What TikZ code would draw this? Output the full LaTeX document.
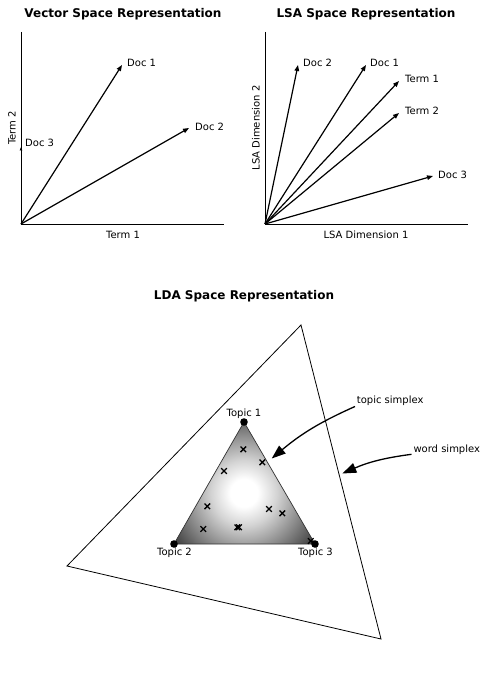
\documentclass[tikz,border=0pt]{standalone}
\usepackage{fontspec}
\setmainfont{DejaVu Sans}
\usetikzlibrary{arrows.meta}
\pgfdeclareradialshading{ldashade}{\pgfpoint{0bp}{0bp}}{color(0bp)=(white); color(4bp)=(white); color(9.5bp)=(black!17); color(25bp)=(black!77); color(50bp)=(black!77)}
\begin{document}
\begin{tikzpicture}[x=1pt,y=-1pt,
  lbl/.style={font=\fontsize{10}{12}\selectfont, inner sep=0pt},
  ttl/.style={font=\fontsize{12}{14}\selectfont\bfseries, inner sep=0pt},
  axisline/.style={line width=1pt},
  vec/.style={line width=1.2pt, -{Triangle[length=6pt,width=4.5pt]}},
  bigarrow/.style={line width=1.3pt, -{Triangle[length=14pt,width=10pt]}},
  xmarkline/.style={line width=1.3pt}
]
\useasboundingbox (0,0) rectangle (487,695);

% ---------- Vector space ----------
\node[ttl] (t1) at (123,14) {Vector Space Representation};
\coordinate (O1) at (21,224);
\coordinate (Y1) at (21,32);
\coordinate (X1) at (224,224);
\draw[axisline] (Y1) -- (O1) -- (X1);
\node[lbl] (xl1) at (123,235) {Term 1};
\node[lbl, rotate=90] (yl1) at (12,128) {Term 2};
\coordinate (v1d1) at (122,65);
\coordinate (v1d2) at (189,128);
\coordinate (v1d3) at (21,147);
\draw[vec] (O1) -- (v1d1);
\draw[vec] (O1) -- (v1d2);
\draw[line width=0.9pt, -{Triangle[length=3.5pt,width=2.5pt]}] (O1) -- (v1d3);
\node[lbl, anchor=west] (l1d1) at (127,63) {Doc 1};
\node[lbl, anchor=west] (l1d2) at (195,127) {Doc 2};
\node[lbl, anchor=west] (l1d3) at (25,143) {Doc 3};

% ---------- LSA space ----------
\node[ttl] (t2) at (366,14) {LSA Space Representation};
\coordinate (O2) at (265,224);
\coordinate (Y2) at (265,32);
\coordinate (X2) at (468,224);
\draw[axisline] (Y2) -- (O2) -- (X2);
\node[lbl] (xl2) at (366,235) {LSA Dimension 1};
\node[lbl, rotate=90] (yl2) at (256,128) {LSA Dimension 2};
\coordinate (v2d2) at (298,65);
\coordinate (v2d1) at (366,65);
\coordinate (v2t1) at (399,81);
\coordinate (v2t2) at (399,113);
\coordinate (v2d3) at (433,176);
\draw[vec] (O2) -- (v2d2);
\draw[vec] (O2) -- (v2d1);
\draw[vec] (O2) -- (v2t1);
\draw[vec] (O2) -- (v2t2);
\draw[vec] (O2) -- (v2d3);
\node[lbl, anchor=west] (l2d2) at (303,63) {Doc 2};
\node[lbl, anchor=west] (l2d1) at (370,63) {Doc 1};
\node[lbl, anchor=west] (l2t1) at (405,79) {Term 1};
\node[lbl, anchor=west] (l2t2) at (405,111) {Term 2};
\node[lbl, anchor=west] (l2d3) at (438,175) {Doc 3};

% ---------- LDA space ----------
\node[ttl] (t3) at (244,296) {LDA Space Representation};
\coordinate (W1) at (301,325);
\coordinate (W2) at (67,566);
\coordinate (W3) at (381,639);
\draw[line width=0.8pt] (W1) -- (W2) -- (W3) -- cycle;

\coordinate (T1) at (244,422);
\coordinate (T2) at (174,544);
\coordinate (T3) at (315,544);
\begin{scope}
  \clip (T1) -- (T2) -- (T3) -- cycle;
  \shade[shading=ldashade] (244,493) circle (86pt);
\end{scope}
\draw[line width=0.7pt, black!80] (T1) -- (T2) -- (T3) -- cycle;
\fill (T1) circle (3.8pt);
\fill (T2) circle (3.8pt);
\fill (T3) circle (3.8pt);
\node[lbl] (lt1) at (244,414) {Topic 1};
\node[lbl] (lt2) at (174.5,552.7) {Topic 2};
\node[lbl] (lt3) at (315.5,552.7) {Topic 3};

\foreach \px/\py in {243.3/449.3, 262.3/462.3, 224/471, 207.3/506.3, 269/509, 282.3/513.3, 203.3/529, 237.3/527.3, 239/527.3, 310.7/541}{
  \draw[xmarkline] (\px-2.8,\py-2.8) -- (\px+2.8,\py+2.8) (\px-2.8,\py+2.8) -- (\px+2.8,\py-2.8);
}

\node[lbl, anchor=west] (ts) at (356.7,401) {topic simplex};
\node[lbl, anchor=west] (ws) at (413.3,449.5) {word simplex};
\coordinate (tsstart) at (355,406.5);
\coordinate (tstip) at (271.7,458.5);
\coordinate (wsstart) at (411.5,454.3);
\coordinate (wstip) at (342.3,473.5);
\draw[bigarrow] (tsstart) to[bend right=8] (tstip);
\draw[bigarrow] (wsstart) to[bend right=8] (wstip);
\end{tikzpicture}
\end{document}
